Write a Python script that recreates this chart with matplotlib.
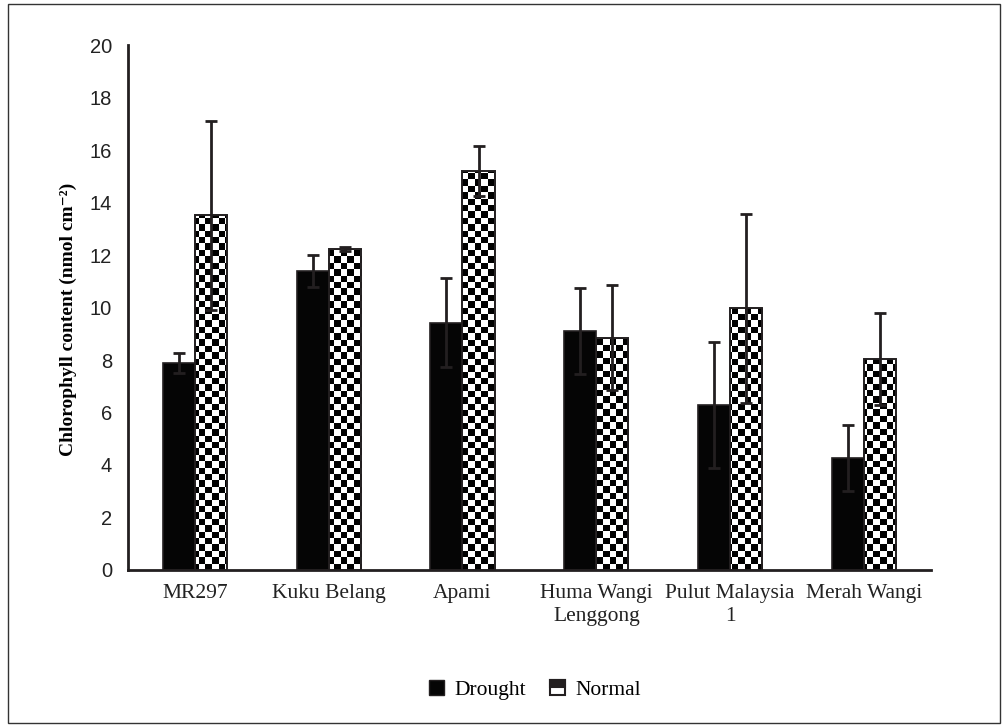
import matplotlib.pyplot as plt
from matplotlib.patches import Rectangle, Patch
from matplotlib.legend_handler import HandlerBase
import numpy as np

categories = ['MR297', 'Kuku Belang', 'Apami', 'Huma Wangi\nLenggong',
              'Pulut Malaysia\n1', 'Merah Wangi']
drought = [7.9, 11.4, 9.42, 9.1, 6.29, 4.27]
drought_err = [0.38, 0.6, 1.7, 1.65, 2.4, 1.25]
normal = [13.52, 12.23, 15.2, 8.84, 9.98, 8.04]
normal_err = [3.6, 0.07, 0.95, 2.0, 3.6, 1.75]
yticks = [0, 2, 4, 6, 8, 10, 12, 14, 16, 18, 20]

serif = 'Liberation Serif'
sans = 'Liberation Sans'
dark = '#231f20'


class CheckerHandle(HandlerBase):
    # small square: white box, dark top half, like the original legend key
    def create_artists(self, legend, orig, xd, yd, width, height, fontsize, trans):
        box = Rectangle((xd, yd), width, height, facecolor='white',
                        edgecolor=dark, linewidth=1.5, transform=trans)
        top = Rectangle((xd, yd + height * 0.5), width, height * 0.5,
                        facecolor=dark, edgecolor=dark, linewidth=1.5, transform=trans)
        return [box, top]


fig = plt.figure(figsize=(10.02, 7.27), dpi=100)
fig.patches.append(Rectangle((0.008, 0.006), 0.99, 0.988, transform=fig.transFigure,
                             fill=False, edgecolor='#333333', linewidth=1.0))
ax = fig.add_axes([0.1277, 0.216, 0.8013, 0.722])

x = np.arange(len(categories))
w = 0.24
xlim = (-0.5, len(categories) - 0.5)
ylim = (0, 20)

ax.bar(x - w / 2, drought, w, color='#050505', edgecolor=dark, linewidth=1.2, zorder=2)
nbars = ax.bar(x + w / 2, normal, w, color='none', edgecolor=dark, linewidth=1.4, zorder=4)

# checkerboard fill for the Normal bars
cell = 6.4
ncols = int(round(0.8013 * 1002 / cell))
nrows = int(round(0.722 * 727 / cell))
checker = (np.indices((nrows, ncols)).sum(axis=0) % 2).astype(float)
for b in nbars:
    im = ax.imshow(checker, extent=(xlim[0], xlim[1], ylim[0], ylim[1]), cmap='gray',
                   interpolation='nearest', aspect='auto', zorder=3, origin='lower')
    clip = Rectangle(b.get_xy(), b.get_width(), b.get_height(), transform=ax.transData)
    im.set_clip_path(clip)

ax.errorbar(x - w / 2, drought, yerr=drought_err, fmt='none', ecolor=dark,
            elinewidth=2, capsize=4.5, capthick=2, zorder=5)
ax.errorbar(x + w / 2, normal, yerr=normal_err, fmt='none', ecolor=dark,
            elinewidth=2, capsize=4.5, capthick=2, zorder=5)

ax.set_xlim(*xlim)
ax.set_ylim(*ylim)
ax.set_yticks(yticks)
ax.set_yticklabels([str(t) for t in yticks], fontfamily=sans, fontsize=14.5, color='#222222')
ax.set_xticks(x)
ax.set_xticklabels(categories, fontfamily=serif, fontsize=15.5, va='top', color='#222222',
                   linespacing=1.3)
ax.tick_params(axis='x', length=0, pad=10)
ax.tick_params(axis='y', length=0, pad=11.5)
for s in ['top', 'right']:
    ax.spines[s].set_visible(False)
for s in ['left', 'bottom']:
    ax.spines[s].set_linewidth(2)
    ax.spines[s].set_color(dark)

ax.set_ylabel('Chlorophyll content (nmol cm\u207b\u00b2)', family=[serif, 'DejaVu Serif'],
              fontsize=14, fontweight='bold')
ax.yaxis.set_label_coords(-0.064, 0.478)

handles = [Patch(facecolor='#050505', edgecolor=dark), Patch()]
fig.legend(handles, ['Drought', 'Normal'], loc='center', bbox_to_anchor=(0.534, 0.051),
           ncol=2, frameon=False, prop={'family': serif, 'size': 15.5},
           handlelength=0.7, handleheight=0.7, handletextpad=0.5, columnspacing=1.1,
           handler_map={handles[1]: CheckerHandle()})

fig.savefig('out.png', dpi=100)
